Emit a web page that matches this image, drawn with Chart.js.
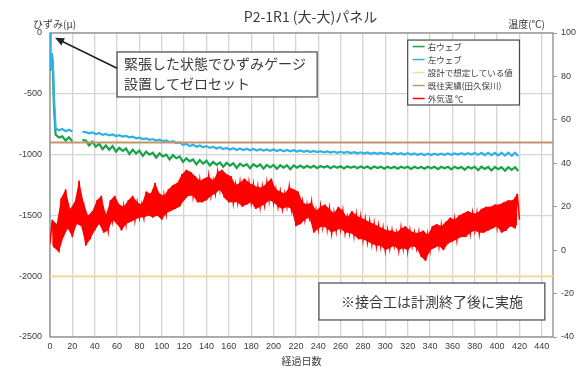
<!DOCTYPE html>
<html>
<head>
<meta charset="utf-8">
<script src="https://cdn.jsdelivr.net/npm/chart.js@4.4.1/dist/chart.umd.min.js"></script>
<style>
  html, body { margin: 0; padding: 0; background: #ffffff; }
  #wrap { position: relative; width: 583px; height: 367px; }
</style>
</head>
<body>
<div id="wrap"><canvas id="c" width="583" height="367"></canvas></div>
<script>
// ---- chart text ----
const chartTitle = 'P2-1R1 (大-大)パネル';
const strainUnit = 'ひずみ(μ)';
const tempUnit = '温度(℃)';
const xTitle = '経過日数';
const seriesNames = ['右ウェブ', '左ウェブ', '設計で想定している値', '既往実績(田久保川)', '外気温 ℃'];
const noteGauge = ['緊張した状態でひずみゲージ', '設置してゼロセット'];
const noteJoint = '※接合工は計測終了後に実施';

// ---- axes ----
const dayMax = 450, dayStep = 20;
const strainMin = -2500, strainMax = 0, strainStep = 500;
const tempMin = -40, tempMax = 100, tempStep = 20;

// ---- strain gauges: first days after zero set ----
const startupDays = [0, 0.3, 1, 1.6, 2.5, 3.5];
const rightWebStartup = [0, -310, -215, -185, -255, -600];
const leftWebStartup = [0, -300, -200, -165, -240, -520];

// ---- strain gauges: readings from day 5, every 3 days (null = no record) ----
const webFirstDay = 5, webEvery = 3;
const rightWeb = [
  -835, -860, -850, -885, -858, -890, null, null, -880, -885, -925, -895, -935, -910, -955,
  -925, -960, -930, -975, -945, -970, -950, -995, -960, -990, -968, -1010, -975, -1000, -985,
  -1025, -990, -1015, -1000, -1040, -1005, -1030, -1015, -1060, -1030, -1055, -1040, -1080, -1045, -1075,
  -1050, -1090, -1060, -1085, -1065, -1100, -1068, -1090, -1072, -1110, -1075, -1095, -1078, -1112, -1080,
  -1100, -1082, -1115, -1085, -1105, -1085, -1118, -1088, -1108, -1088, -1120, -1090, -1108, -1090, -1110,
  -1092, -1108, -1092, -1112, -1094, -1106, -1094, -1112, -1095, -1108, -1096, -1114, -1096, -1108, -1097,
  -1112, -1097, -1110, -1098, -1115, -1098, -1110, -1099, -1116, -1100, -1112, -1100, -1116, -1100, -1110,
  -1100, -1118, -1100, -1112, -1101, -1116, -1100, -1112, -1100, -1120, -1100, -1112, -1100, -1122, -1100,
  -1114, -1101, -1125, -1100, -1115, -1100, -1128, -1100, -1118, -1102, -1130, -1102, -1120, -1103, -1132,
  -1103, -1125, -1104, -1135
];
const leftWeb = [
  -785, -800, -790, -808, -795, -810, null, null, -812, -815, -825, -818, -832, -822, -838,
  -830, -842, -835, -848, -840, -852, -846, -858, -852, -866, -860, -872, -866, -878, -872,
  -884, -878, -890, -884, -898, -890, -905, -900, -920, -912, -930, -918, -935, -925, -940,
  -930, -945, -935, -950, -940, -955, -945, -958, -948, -962, -950, -963, -952, -965, -954,
  -966, -956, -967, -957, -968, -958, -970, -960, -972, -962, -973, -964, -975, -966, -977,
  -968, -979, -970, -980, -972, -982, -974, -983, -975, -985, -977, -986, -978, -988, -980,
  -990, -981, -991, -982, -993, -984, -994, -985, -996, -986, -997, -987, -998, -988, -999,
  -989, -1000, -990, -1002, -992, -1003, -993, -1004, -993, -1002, -992, -1002, -991, -1001, -990,
  -1000, -989, -1000, -988, -1000, -987, -1002, -986, -1004, -986, -1005, -985, -1006, -985, -1008,
  -985, -1010, -985, -1012
];

// ---- reference levels ----
const designStrain = -2000;
const pastRecordStrain = -900;

// ---- outdoor air temperature (℃), every 2 days from day 0, alternating night low / day high ----
const tempFirstDay = 0, tempEvery = 2;
const airTemp = [
  3, 14, 1, 12, -1, 24, 6, 28, 10, 19, 6, 22, 12, 32, 11, 22, 2, 16, 5, 18,
  9, 23, 12, 25, 8, 16, 9, 23, 14, 25, 12, 21, 9, 20, 12, 23, 13, 25, 14, 22,
  15, 21, 15, 27, 16, 26, 15, 31, 16, 26, 14, 25, 17, 28, 18, 30, 19, 31, 20, 35,
  23, 37, 25, 36, 25, 34, 22, 32, 22, 33, 23, 34, 25, 32, 26, 36, 28, 37, 24, 35,
  22, 34, 22, 30, 22, 31, 20, 33, 21, 31, 22, 30, 19, 29, 20, 29, 21, 31, 23, 33,
  22, 28, 20, 27, 19, 26, 20, 29, 19, 28, 11, 27, 12, 22, 14, 21, 15, 22, 8, 18,
  10, 20, 11, 21, 10, 19, 8, 17, 9, 20, 10, 18, 8, 15, 8, 18, 7, 16, 5, 15,
  5, 14, 4, 13, 3, 12, 2, 11, 2, 10, 0, 9, 1, 9, 2, 8, 0, 10, 1, 11,
  0, 9, 2, 8, 1, 8, -3, 9, -5, 7, 0, 11, 1, 12, 2, 11, 0, 13, 3, 15,
  4, 14, 5, 16, 6, 17, 6, 18, 8, 17, 9, 17, 8, 19, 8, 20, 9, 20, 10, 21,
  11, 21, 8, 22, 9, 23, 11, 23, 10, 26, 14
];

// ---- colours ----
const colRight = '#17a348';
const colLeft = '#2fb1e6';
const colDesign = '#f3dc93';
const colPast = '#c4956b';
const colTemp = '#ff0000';
const colGrid = '#d4d4d4';
const colFrame = '#9a9a9a';
const colText = '#3a3a3a';
const cjk = "'Noto Sans CJK JP', 'Noto Sans', sans-serif";

const seriesPoints = (days, values) => values.map((v, i) => ({ x: days[i], y: v }));
const evenPoints = (first, every, values) => values.map((v, i) => ({ x: first + i * every, y: v }));

const rightWebPts = seriesPoints(startupDays, rightWebStartup).concat(evenPoints(webFirstDay, webEvery, rightWeb));
const leftWebPts = seriesPoints(startupDays, leftWebStartup).concat(evenPoints(webFirstDay, webEvery, leftWeb));
const levelPts = v => [{ x: 0, y: v }, { x: dayMax, y: v }];
const tempPts = evenPoints(tempFirstDay, tempEvery, airTemp);
// the daily swing is shaded between the lows and the highs of the same readings
const tempLowPts = tempPts.filter((p, i) => i % 2 === 0);
const tempHighPts = tempPts.filter((p, i) => i % 2 === 1);

const datasets = [
  { label: seriesNames[0], data: rightWebPts, borderColor: colRight, borderWidth: 2.2, yAxisID: 'y', order: 4 },
  { label: seriesNames[1], data: leftWebPts, borderColor: colLeft, borderWidth: 2.2, yAxisID: 'y', order: 3 },
  { label: seriesNames[2], data: levelPts(designStrain), borderColor: colDesign, borderWidth: 2, yAxisID: 'y', order: 2 },
  { label: seriesNames[3], data: levelPts(pastRecordStrain), borderColor: colPast, borderWidth: 2, yAxisID: 'y', order: 1 },
  { label: seriesNames[4], data: tempPts, borderColor: colTemp, borderWidth: 1.6, yAxisID: 'y1', order: 0 },
  { label: '', data: tempLowPts, borderColor: 'rgba(0,0,0,0)', borderWidth: 0, yAxisID: 'y1', order: 6 },
  { label: '', data: tempHighPts, borderColor: 'rgba(0,0,0,0)', borderWidth: 0, yAxisID: 'y1', order: 5,
    fill: '-1', backgroundColor: colTemp }
];
datasets.forEach(d => { d.pointRadius = 0; d.tension = 0; if (d.fill === undefined) d.fill = false; d.spanGaps = false; });

// frame, headings, legend box and notes drawn on the canvas
const decorations = {
  id: 'decorations',
  beforeDatasetsDraw(chart) {
    const { ctx, chartArea: a } = chart;
    ctx.save();
    ctx.strokeStyle = colFrame;
    ctx.lineWidth = 1.5;
    ctx.strokeRect(a.left, a.top, a.right - a.left, a.bottom - a.top);
    ctx.restore();
  },
  afterDraw(chart) {
    const { ctx, chartArea: a } = chart;
    const xs = chart.scales.x, ys = chart.scales.y;
    const px = d => xs.getPixelForValue(d);
    const py = v => ys.getPixelForValue(v);
    ctx.save();

    // headings
    ctx.fillStyle = colText;
    ctx.textBaseline = 'middle';
    ctx.font = '14px ' + cjk;
    ctx.textAlign = 'center';
    ctx.fillText(chartTitle, (a.left + a.right) / 2 + 9, 17);
    ctx.font = '10px ' + cjk;
    ctx.textAlign = 'left';
    ctx.fillText(strainUnit, 33, 24);
    ctx.textAlign = 'right';
    ctx.fillText(tempUnit, a.right - 8, 24);

    // legend box
    const lx0 = px(320), lx1 = px(420), ly0 = py(-58), ly1 = py(-592);
    ctx.fillStyle = '#ffffff';
    ctx.fillRect(lx0, ly0, lx1 - lx0, ly1 - ly0);
    ctx.strokeStyle = '#4a4a4a';
    ctx.lineWidth = 1.2;
    ctx.strokeRect(lx0, ly0, lx1 - lx0, ly1 - ly0);
    ctx.font = '8.5px ' + cjk;
    ctx.textAlign = 'left';
    const rowH = (ly1 - ly0) / seriesNames.length;
    seriesNames.forEach((name, i) => {
      const ds = chart.data.datasets[i];
      const yy = ly0 + rowH * (i + 0.5);
      ctx.strokeStyle = ds.borderColor;
      ctx.lineWidth = 1.5;
      ctx.beginPath();
      ctx.moveTo(lx0 + 5, yy);
      ctx.lineTo(lx0 + 17, yy);
      ctx.stroke();
      ctx.fillStyle = colText;
      ctx.fillText(name, lx0 + 20, yy);
    });

    // note about the zero set, with arrow to the start of the record
    const ax0 = px(60), ax1 = px(239), ay0 = py(-156), ay1 = py(-526);
    ctx.fillStyle = '#ffffff';
    ctx.fillRect(ax0, ay0, ax1 - ax0, ay1 - ay0);
    ctx.strokeStyle = '#555555';
    ctx.lineWidth = 1.3;
    ctx.strokeRect(ax0, ay0, ax1 - ax0, ay1 - ay0);
    ctx.fillStyle = colText;
    ctx.font = '14px ' + cjk;
    ctx.textAlign = 'left';
    ctx.fillText(noteGauge[0], ax0 + 7, ay0 + 12);
    ctx.fillText(noteGauge[1], ax0 + 7, ay0 + 32);

    const tipX = px(4.5), tipY = py(-40), tailX = ax0, tailY = py(-290);
    const ang = Math.atan2(tipY - tailY, tipX - tailX);
    ctx.strokeStyle = '#222222';
    ctx.fillStyle = '#222222';
    ctx.lineWidth = 1.6;
    ctx.beginPath();
    ctx.moveTo(tailX, tailY);
    ctx.lineTo(tipX - 6 * Math.cos(ang), tipY - 6 * Math.sin(ang));
    ctx.stroke();
    ctx.beginPath();
    ctx.moveTo(tipX, tipY);
    ctx.lineTo(tipX - 9 * Math.cos(ang) + 4 * Math.sin(ang), tipY - 9 * Math.sin(ang) - 4 * Math.cos(ang));
    ctx.lineTo(tipX - 9 * Math.cos(ang) - 4 * Math.sin(ang), tipY - 9 * Math.sin(ang) + 4 * Math.cos(ang));
    ctx.closePath();
    ctx.fill();

    // note about the joint work
    const bx0 = px(240.6), bx1 = px(442.7), by0 = py(-2056), by1 = py(-2360);
    ctx.fillStyle = '#ffffff';
    ctx.fillRect(bx0, by0, bx1 - bx0, by1 - by0);
    ctx.strokeStyle = '#555555';
    ctx.lineWidth = 1.3;
    ctx.strokeRect(bx0, by0, bx1 - bx0, by1 - by0);
    ctx.fillStyle = colText;
    ctx.textAlign = 'center';
    ctx.fillText(noteJoint, (bx0 + bx1) / 2, (by0 + by1) / 2);

    ctx.restore();
  }
};

const tickFont = { family: "'Liberation Sans', sans-serif", size: 9 };
const plainNumber = v => String(v);

new Chart(document.getElementById('c'), {
  type: 'line',
  data: { datasets },
  plugins: [decorations],
  options: {
    responsive: false,
    animation: false,
    devicePixelRatio: 1,
    layout: { padding: { top: 33, left: 0, right: 0, bottom: 0 } },
    plugins: { legend: { display: false }, tooltip: { enabled: false }, title: { display: false } },
    scales: {
      x: {
        type: 'linear', min: 0, max: dayMax,
        ticks: { stepSize: dayStep, includeBounds: false, autoSkip: false, maxRotation: 0, color: colText, font: tickFont, padding: 4, callback: plainNumber },
        grid: { color: colGrid, lineWidth: 1.3, drawTicks: false },
        border: { display: false },
        title: { display: true, text: xTitle, color: colText, font: { family: cjk, size: 10 }, padding: { top: 0, bottom: 0 } },
        afterFit: s => { s.height = 30; }
      },
      y: {
        type: 'linear', position: 'left', min: strainMin, max: strainMax,
        ticks: { stepSize: strainStep, color: colText, font: tickFont, padding: 8, callback: plainNumber },
        grid: { color: colGrid, lineWidth: 1.3, drawTicks: false },
        border: { display: false },
        afterFit: s => { s.width = 50; }
      },
      y1: {
        type: 'linear', position: 'right', min: tempMin, max: tempMax,
        ticks: { stepSize: tempStep, color: colText, font: tickFont, padding: 4, callback: plainNumber },
        grid: { drawOnChartArea: false, drawTicks: true, tickLength: 4, color: colFrame },
        border: { display: false },
        afterFit: s => { s.width = 30; }
      }
    }
  }
});
</script>
</body>
</html>
